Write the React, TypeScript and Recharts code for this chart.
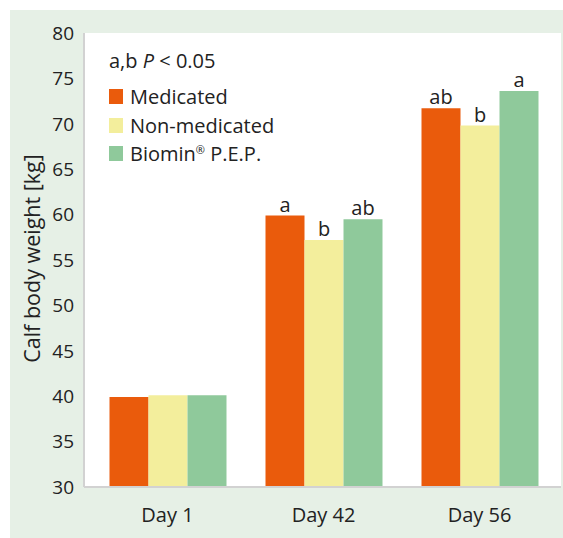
import { Bar, BarChart, LabelList, Legend, XAxis, YAxis } from "recharts";

const FONT = '"Open Sans", "Noto Sans", sans-serif';
const TEXT = "#222";
const FRAME = "#d2d2d2";

const days = ["Day 1", "Day 42", "Day 56"];
const medicated = [39.9, 59.9, 71.7];
const nonMedicated = [40.1, 57.2, 69.8];
const biomin = [40.1, 59.5, 73.6];
const medicatedSig = ["", "a", "ab"];
const nonMedicatedSig = ["", "b", "b"];
const biominSig = ["", "ab", "a"];
const yTicks = [30, 35, 40, 45, 50, 55, 60, 65, 70, 75, 80];

const PLOT_TOP = 33;
const PLOT_HEIGHT = 454;
const TITLE_X = 31;
const TITLE_Y = PLOT_TOP + PLOT_HEIGHT / 2 - 1.5;

const series = [
  { key: "medicated", sig: "medicatedSig", name: "Medicated", color: "#ea5b0c" },
  { key: "nonMedicated", sig: "nonMedicatedSig", name: "Non-medicated", color: "#f3ee9c" },
  { key: "biomin", sig: "biominSig", name: "Biomin® P.E.P.", color: "#8fc99b" },
];

const data = days.map((day, i) => ({
  day,
  medicated: medicated[i],
  nonMedicated: nonMedicated[i],
  biomin: biomin[i],
  medicatedSig: medicatedSig[i],
  nonMedicatedSig: nonMedicatedSig[i],
  biominSig: biominSig[i],
}));

function KeyBox() {
  return (
    <div style={{ fontFamily: FONT, fontSize: 20, color: TEXT, whiteSpace: "nowrap" }}>
      <div style={{ height: 36, lineHeight: "28.5px" }}>
        a,b <i>P</i> &lt; 0.05
      </div>
      {series.map((s) => (
        <div key={s.key} style={{ height: 28.5, lineHeight: "28.5px" }}>
          <span
            style={{
              display: "inline-block",
              width: 14,
              height: 15,
              marginRight: 7,
              background: s.color,
            }}
          />
          {s.name === "Biomin® P.E.P." ? (
            <>
              Biomin
              <span style={{ fontSize: 11, verticalAlign: 7, lineHeight: 0 }}>®</span> P.E.P.
            </>
          ) : (
            s.name
          )}
        </div>
      ))}
    </div>
  );
}

export default function App() {
  return (
    <div style={{ position: "absolute", left: 0, top: 0, width: 563, height: 538, background: "#fff" }}>
      <div
        style={{ position: "absolute", left: 10, top: 10, right: 0, bottom: 0, background: "#e6f0e6" }}
      />
      <div style={{ position: "absolute", left: 0, top: 0 }}>
        <BarChart
          width={563}
          height={538}
          data={data}
          margin={{ top: PLOT_TOP, right: 2, bottom: 0, left: 0 }}
          barSize={39}
          barGap={0}
        >
          <rect x={84} y={PLOT_TOP} width={477} height={PLOT_HEIGHT} fill="#fff" />
          <text
            x={TITLE_X}
            y={TITLE_Y}
            transform={`rotate(-90, ${TITLE_X}, ${TITLE_Y})`}
            textAnchor="middle"
            dominantBaseline="central"
            fill={TEXT}
            fontSize={21.5}
            fontFamily={FONT}
          >
            Calf body weight [kg]
          </text>
          <XAxis
            dataKey="day"
            height={51}
            padding={{ left: 5.5, right: 3.5 }}
            tickLine={false}
            tickSize={0}
            tickMargin={21}
            axisLine={{ stroke: FRAME, strokeWidth: 2 }}
            tick={{ fill: TEXT, fontSize: 20, fontFamily: FONT }}
          />
          <XAxis
            xAxisId="frame"
            orientation="top"
            height={0}
            tick={false}
            tickLine={false}
            axisLine={{ stroke: FRAME, strokeWidth: 2 }}
          />
          <YAxis
            domain={[30, 80]}
            ticks={yTicks}
            width={84}
            tickLine={false}
            tickSize={0}
            tickMargin={10}
            allowDataOverflow
            axisLine={{ stroke: FRAME, strokeWidth: 2 }}
            tick={{ fill: TEXT, fontSize: 19, fontFamily: FONT }}
          />
          <YAxis
            yAxisId="frame"
            orientation="right"
            width={0}
            tick={false}
            tickLine={false}
            axisLine={{ stroke: FRAME, strokeWidth: 2 }}
          />
          <Legend
            layout="vertical"
            align="center"
            verticalAlign="middle"
            wrapperStyle={{ top: 47, left: 109, width: "auto", height: "auto" }}
            content={() => <KeyBox />}
          />
          {series.map((s) => (
            <Bar key={s.key} dataKey={s.key} name={s.name} fill={s.color} isAnimationActive={false}>
              <LabelList
                dataKey={s.sig}
                position="top"
                offset={4}
                fill={TEXT}
                fontSize={20}
                fontFamily={FONT}
              />
            </Bar>
          ))}
        </BarChart>
      </div>
    </div>
  );
}
